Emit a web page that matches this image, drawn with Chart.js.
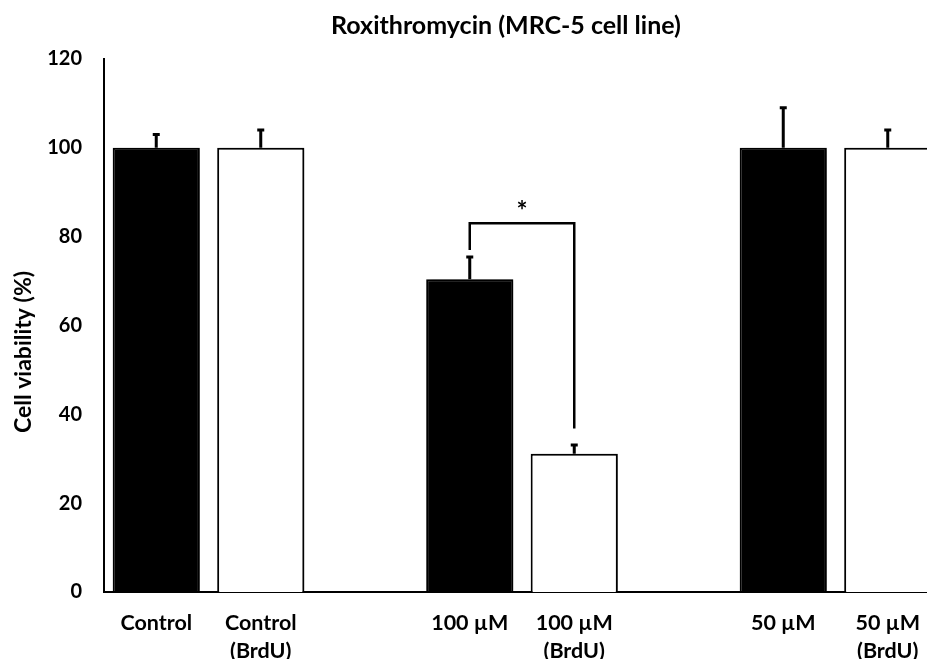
<!DOCTYPE html>
<html>
<head>
<meta charset="utf-8">
<script src="https://cdn.jsdelivr.net/npm/chart.js@4.4.1/dist/chart.umd.min.js"></script>
<style>
  html, body { margin: 0; padding: 0; background: #fff; overflow: hidden; }
  #wrap { width: 940px; height: 659px; }
</style>
</head>
<body>
<div id="wrap"><canvas id="chart" width="940" height="659"></canvas></div>
<script>
// ---- data ----
const categories = [
  ["Control"], ["Control", "(BrdU)"], [""],
  ["100 µM"], ["100 µM", "(BrdU)"], [""],
  ["50 µM"], ["50 µM", "(BrdU)"]
];
const viability = [100, 100, null, 70.4, 31.1, null, 100, 100];
const errUp = [3, 4, null, 5, 2, null, 9, 4];
const yTicks = [0, 20, 40, 60, 80, 100, 120];

// significance bracket: between bar 3 and bar 4
const bracketPair = [3, 4];
const bracketLevel = 83;
const bracketFeet = [77, 36.8];
const bracketMark = "*";

const FONT = "Lato, 'Open Sans', sans-serif";

const barColors = categories.map(c => c.join(" ").includes("BrdU") ? "#ffffff" : "#000000");

// shadow behind bars
const barShadow = {
  id: "barShadow",
  beforeDatasetsDraw(chart) {
    const ctx = chart.ctx;
    ctx.save();
    ctx.shadowColor = "rgba(0,0,0,0.35)";
    ctx.shadowOffsetX = 3;
    ctx.shadowOffsetY = 0;
    ctx.shadowBlur = 4;
  },
  afterDatasetsDraw(chart) {
    chart.ctx.restore();
  }
};

// error bars (upper only) + bracket + titles
const extras = {
  id: "extras",
  afterDatasetsDraw(chart) {
    const ctx = chart.ctx;
    const y = chart.scales.y;
    const meta = chart.getDatasetMeta(0);
    ctx.save();
    ctx.strokeStyle = "#000";
    ctx.lineWidth = 3;
    meta.data.forEach((bar, i) => {
      if (viability[i] == null) return;
      const top = y.getPixelForValue(viability[i] + errUp[i]);
      ctx.beginPath();
      ctx.moveTo(bar.x, bar.y);
      ctx.lineTo(bar.x, top);
      ctx.moveTo(bar.x - 3.5, top);
      ctx.lineTo(bar.x + 3.5, top);
      ctx.stroke();
    });

    // bracket
    const x1 = meta.data[bracketPair[0]].x;
    const x2 = meta.data[bracketPair[1]].x;
    const yl = y.getPixelForValue(bracketLevel);
    ctx.lineWidth = 2.5;
    ctx.beginPath();
    ctx.moveTo(x1, y.getPixelForValue(bracketFeet[0]));
    ctx.lineTo(x1, yl);
    ctx.lineTo(x2, yl);
    ctx.lineTo(x2, y.getPixelForValue(bracketFeet[1]));
    ctx.stroke();
    ctx.fillStyle = "#000";
    ctx.font = "bold 26px " + FONT;
    ctx.textAlign = "center";
    ctx.textBaseline = "middle";
    ctx.fillText(bracketMark, (x1 + x2) / 2, yl - 12);

    // chart title
    ctx.font = "bold 25px " + FONT;
    ctx.fillText("Roxithromycin (MRC-5 cell line)", 506, 26);

    // y axis title
    ctx.translate(24, 352);
    ctx.rotate(-Math.PI / 2);
    ctx.font = "bold 23px " + FONT;
    ctx.fillText("Cell viability (%)", 0, 0);
    ctx.restore();
  }
};

new Chart(document.getElementById("chart"), {
  type: "bar",
  data: {
    labels: categories,
    datasets: [{
      data: viability,
      backgroundColor: barColors,
      borderColor: "#000",
      borderWidth: 2,
      barPercentage: 0.834,
      categoryPercentage: 1.0
    }]
  },
  options: {
    responsive: false,
    animation: false,
    layout: { padding: { top: 59, left: 0, right: 0, bottom: 0 } },
    plugins: {
      legend: { display: false },
      tooltip: { enabled: false },
      title: { display: false }
    },
    scales: {
      x: {
        grid: { display: false, drawTicks: false, tickLength: 0 },
        border: { display: true, color: "#000", width: 2 },
        ticks: {
          color: "#000",
          maxRotation: 0,
          autoSkip: false,
          padding: 17,
          font: { family: FONT, weight: "bold", size: 21.5, lineHeight: 1.3 }
        },
        afterFit(scale) { scale.height = 67; }
      },
      y: {
        min: 0,
        max: 120,
        afterBuildTicks(scale) { scale.ticks = yTicks.map(v => ({ value: v })); },
        grid: { display: false, drawTicks: false, tickLength: 0 },
        border: { display: true, color: "#000", width: 2 },
        ticks: {
          color: "#000",
          padding: 22,
          font: { family: FONT, weight: "bold", size: 20 }
        },
        afterFit(scale) { scale.width = 104; }
      }
    }
  },
  plugins: [barShadow, extras]
});
</script>
</body>
</html>
